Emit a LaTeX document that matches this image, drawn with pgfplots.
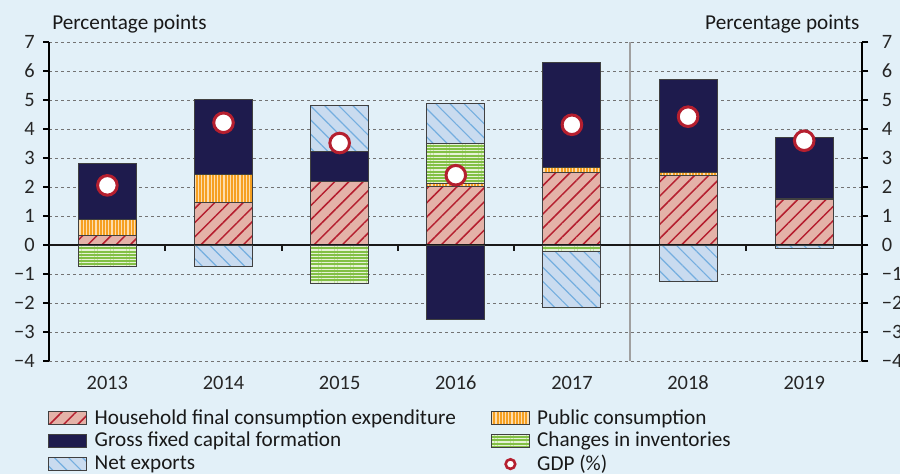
\documentclass[border=0pt]{standalone}
\usepackage{fontspec}
\setmainfont{Carlito}
\usepackage{pgfplots}
\pgfplotsset{compat=1.18}
\usetikzlibrary{patterns.meta}
\definecolor{bg}{HTML}{E2F0F8}
\definecolor{hhfill}{HTML}{E4B2A8}
\definecolor{hhline}{HTML}{B51F2F}
\definecolor{pubfill}{HTML}{F6A021}
\definecolor{publine}{HTML}{FDDDAE}
\definecolor{gfcf}{HTML}{1E1B4D}
\definecolor{invfill}{HTML}{82C045}
\definecolor{invline}{HTML}{E6F2D6}
\definecolor{nxfill}{HTML}{C9DBEF}
\definecolor{nxline}{HTML}{74AEDF}
\definecolor{gdp}{HTML}{B51F2F}
\definecolor{sep}{HTML}{A0A0A0}
\pgfplotsset{
  barimg/.style={legend image code/.code={\draw[##1,draw=black!75,line width=0.5pt] (0pt,-3.25pt) rectangle (19pt,3.25pt);}},
  hh/.style={fill=hhfill,draw=black!75,line width=0.5pt,postaction={pattern={Lines[angle=45,distance=5pt,line width=0.75pt]},pattern color=hhline}},
  pub/.style={fill=pubfill,draw=black!75,line width=0.5pt,postaction={pattern={Lines[angle=90,distance=1.6pt,line width=0.55pt]},pattern color=publine}},
  gf/.style={fill=gfcf,draw=black!75,line width=0.5pt},
  inv/.style={fill=invfill,draw=black!75,line width=0.5pt,postaction={pattern={Lines[angle=0,distance=1.6pt,line width=0.55pt]},pattern color=invline}},
  nx/.style={fill=nxfill,draw=black!75,line width=0.5pt,postaction={pattern={Lines[angle=-45,distance=5pt,line width=0.6pt]},pattern color=nxline}},
  common/.style={
    at={(0,0)}, anchor=south west,
    width=406.5pt, height=159.4pt, scale only axis,
    ybar stacked, bar width=0.5,
    xmin=-0.5, xmax=6.5, ymin=-4, ymax=7,
    ytick={-4,...,7},
    yticklabels={−4,−3,−2,−1,0,1,2,3,4,5,6,7},
    y axis line style={line width=1.1pt},
    ytick style={line width=1pt,black},
    tick align=outside, major tick length=3pt,
    tick label style={font=\fontsize{10.2}{12}\selectfont, text=black!85},
  },
}
\begin{document}
\begin{tikzpicture}
\path[use as bounding box] (-24.65pt,-56.5pt) rectangle (425.35pt,180.5pt);
\fill[bg] (-24.65pt,-56.5pt) rectangle (425.35pt,180.5pt);
\begin{axis}[common,
  clip mode=individual,
  xtick={0,...,6},
  xticklabels={2013,2014,2015,2016,2017,2018,2019},
  axis y line*=left, axis x line*=bottom,
  x axis line style={draw=none},
  xtick style={draw=none},
  ymajorgrids,
  major grid style={dash pattern=on 1.5pt off 1.5pt, black!55, line width=0.45pt},
  yticklabel style={xshift=-0.8pt},
  xticklabel style={yshift=-1pt},
  legend columns=2,
  legend cell align=left,
  legend style={at={(rel axis cs:0,0)}, anchor=north west, xshift=-0.6pt, yshift=-23pt,
    draw=none, fill=none, inner sep=0pt, row sep=0.5pt,
    font=\fontsize{10.6}{11}\selectfont,
    nodes={inner sep=1pt, text=black!90},
    /tikz/every odd column/.append style={column sep=2.6pt},
    /tikz/every even column/.append style={column sep=16.5pt}},
]
\addplot[hh,barimg] coordinates {(0,0.32) (1,1.46) (2,2.20) (3,2.03) (4,2.52) (5,2.40) (6,1.57)};
\addplot[pub,barimg] coordinates {(0,0.57) (1,0.99) (2,0) (3,0.08) (4,0.16) (5,0.11) (6,0.05)};
\addplot[gf,barimg] coordinates {(0,1.92) (1,2.56) (2,1.03) (3,0) (4,3.63) (5,3.20) (6,2.09)};
\addplot[inv,barimg] coordinates {(0,0) (1,0) (2,0) (3,1.41) (4,0) (5,0) (6,0)};
\addplot[nx,barimg] coordinates {(0,0) (1,0) (2,1.59) (3,1.35) (4,0) (5,0) (6,0)};
\addlegendimage{legend image code/.code={\draw[gdp,fill=white,line width=1.3pt] (9.5pt,0pt) circle (2.4pt);}}
\legend{Household final consumption expenditure, Public consumption, Gross fixed capital formation, Changes in inventories, Net exports, GDP (\%)}
\node[anchor=base west, inner sep=0pt, font=\fontsize{10.6}{12}\selectfont, text=black!90] at ([xshift=1.3pt,yshift=6.2pt]rel axis cs:0,1) {Percentage points};
\node[anchor=base east, inner sep=0pt, font=\fontsize{10.6}{12}\selectfont, text=black!90] at ([xshift=-1.2pt,yshift=6.2pt]rel axis cs:1,1) {Percentage points};
\end{axis}
\begin{axis}[common,
  axis y line*=right, axis x line=none,
  yticklabel style={xshift=3.3pt},
]
\addplot[gf] coordinates {(0,0) (1,0) (2,0) (3,-2.58) (4,0) (5,0) (6,0)};
\addplot[inv] coordinates {(0,-0.75) (1,0) (2,-1.33) (3,0) (4,-0.23) (5,0) (6,0)};
\addplot[nx] coordinates {(0,0) (1,-0.75) (2,0) (3,0) (4,-1.93) (5,-1.27) (6,-0.13)};
\draw[line width=1.2pt,black!90] (axis cs:-0.5,0) -- (axis cs:6.5,0);
\draw[line width=1pt,black!90] (axis cs:0.5,0) -- ++(0pt,-3pt);
\draw[line width=1pt,black!90] (axis cs:1.5,0) -- ++(0pt,-3pt);
\draw[line width=1pt,black!90] (axis cs:2.5,0) -- ++(0pt,-3pt);
\draw[line width=1pt,black!90] (axis cs:3.5,0) -- ++(0pt,-3pt);
\draw[line width=1pt,black!90] (axis cs:5.5,0) -- ++(0pt,-3pt);
\draw[sep,line width=1pt] (axis cs:4.5,-4) -- (axis cs:4.5,7);
\addplot[only marks, mark=*, mark size=4.9pt, mark options={fill=white, draw=gdp, line width=1.5pt}] coordinates {(0,2.06) (1,4.22) (2,3.52) (3,2.41) (4,4.15) (5,4.43) (6,3.60)};
\end{axis}
\end{tikzpicture}
\end{document}
